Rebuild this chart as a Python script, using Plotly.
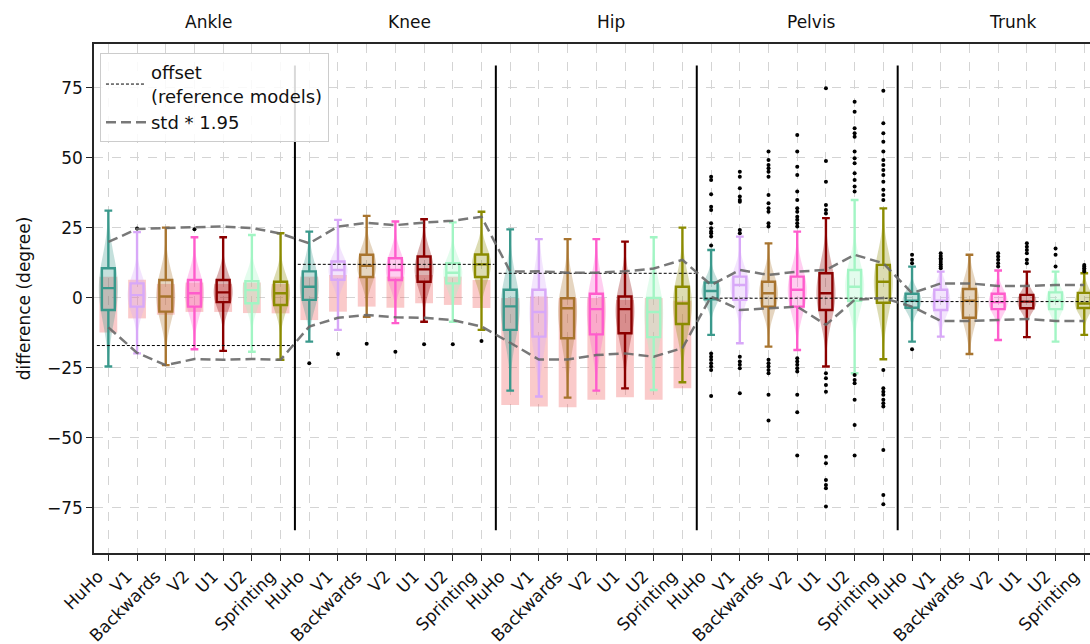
import plotly.graph_objects as go

categories = ["HuHo", "V1", "Backwards", "V2", "U1", "U2", "Sprinting"]
joints = ["Ankle", "Knee", "Hip", "Pelvis", "Trunk"]
colors = ["#3a998c", "#d8a8f8", "#a8742e", "#ff5ccc", "#8b0000", "#a2f5c4", "#8b8b00"]

# ---- box statistics per joint (order = categories) ----
ankle_med = [3.5, 1.0, 0.5, 1.7, 2.0, 2.8, 1.7]
ankle_q1 = [-4.3, -3.1, -4.9, -3.1, -1.5, -1.9, -2.5]
ankle_q3 = [10.6, 5.2, 6.4, 6.4, 6.4, 6.0, 5.8]
ankle_lo = [-24.5, -19.8, -24.0, -18.3, -18.9, -19.2, -22.1]
ankle_hi = [31.2, 23.5, 25.1, 21.7, 21.7, 22.5, 23.1]

knee_med = [4.0, 10.0, 11.5, 10.0, 10.2, 9.0, 12.0]
knee_q1 = [-0.7, 6.5, 7.5, 6.4, 5.8, 5.2, 7.5]
knee_q3 = [9.5, 13.0, 15.4, 14.2, 14.8, 12.4, 15.5]
knee_lo = [-15.6, -11.4, -6.7, -9.0, -8.5, -8.5, -11.4]
knee_hi = [23.7, 27.9, 29.3, 27.3, 28.1, 27.0, 30.8]

hip_med = [-3.0, -5.0, -3.7, -4.0, -4.0, -5.0, -2.0]
hip_q1 = [-11.4, -13.8, -14.4, -13.0, -12.6, -14.0, -9.3]
hip_q3 = [2.9, 2.9, -0.1, 1.5, 0.5, 0.0, 4.0]
hip_lo = [-33.1, -35.2, -35.6, -33.1, -32.3, -32.9, -30.1]
hip_hi = [24.5, 21.0, 21.0, 21.0, 20.1, 21.7, 25.1]

pelvis_med = [2.5, 4.6, 1.7, 2.9, 1.7, 4.0, 5.8]
pelvis_q1 = [-0.5, -0.7, -3.1, -3.1, -4.3, -1.0, -1.7]
pelvis_q3 = [5.5, 7.6, 5.8, 7.6, 8.8, 10.0, 11.8]
pelvis_lo = [-13.2, -16.2, -17.4, -18.6, -24.5, -26.9, -21.9]
pelvis_hi = [17.1, 21.9, 19.5, 23.7, 28.5, 35.0, 32.0]

trunk_med = [-1.0, -1.0, -1.0, -1.5, -1.3, -1.0, -2.0]
trunk_q1 = [-3.5, -4.3, -7.1, -4.0, -3.7, -4.0, -3.6]
trunk_q3 = [1.5, 2.9, 3.2, 1.5, 1.1, 2.0, 1.8]
trunk_lo = [-15.6, -13.8, -20.0, -15.0, -14.0, -15.6, -13.2]
trunk_hi = [11.2, 9.4, 15.4, 9.8, 9.4, 9.4, 8.8]

# ---- outliers ----
ankle_out = [[], [24.8], [], [24.5], [], [], []]
knee_out = [[-23.3], [-20.0], [-16.4], [-19.2], [-16.5], [-16.5], [-15.4]]
hip_out = [[], [], [], [], [], [], []]
pelvis_out = [
    [43.3, 42.1, 37.0, 32.6, 31.4, 26.7, 24.9, 23.7, 23.1, 21.9, 18.7,
     -19.8, -21.0, -22.1, -23.3, -24.5, -25.7, -35.0],
    [45.1, 43.3, 39.2, 36.2, 35.0, 34.4, 24.3, 23.1,
     -21.0, -22.7, -23.9, -25.1, -34.0],
    [52.3, 49.3, 47.5, 46.3, 45.1, 43.3, 36.8, 33.8, 32.0, 30.8, 26.7, 25.5,
     -22.1, -23.3, -24.5, -25.7, -26.9, -34.6, -43.8],
    [58.2, 52.3, 46.9, 43.9, 38.0, 35.0, 32.0, 30.8, 29.0, 27.9, 26.7, 25.5,
     -21.5, -22.7, -23.9, -25.1, -26.3, -34.6, -40.8, -56.3],
    [74.9, 48.9, 41.5, 33.2, 31.4, 30.2,
     -26.9, -28.7, -31.1, -33.5, -56.7, -59.0, -65.0, -66.8, -68.0, -74.5],
    [70.1, 66.5, 60.6, 58.8, 57.6, 52.3, 49.9, 48.1, 44.5, 42.1, 39.8, 38.0,
     -27.5, -29.3, -30.5, -36.4, -45.4, -56.3],
    [74.0, 62.4, 58.8, 55.8, 52.3, 49.3, 47.5, 45.7, 43.9, 41.5, 38.6, 36.8, 35.0,
     -25.7, -32.3, -33.5, -34.6, -36.4, -37.6, -38.8, -54.3, -70.4, -73.7],
]
trunk_out = [
    [15.4, 13.6, 12.4, -18.3],
    [16.0, 15.0, 14.2, 13.6, 12.8, 12.0, 11.2, 10.6],
    [],
    [16.0, 14.8, 13.6, 12.4, 11.2],
    [19.5, 18.3, 17.1, 16.0, 13.6, 12.4],
    [17.7, 15.4, 11.2],
    [11.8, 11.2, 10.6, 10.0, 9.4],
]

# ---- reference ranges (red bars) for Ankle, Knee, Hip ----
ankle_ref_lo = [-12.3, -7.3, -6.0, -5.0, -5.0, -5.4, -5.5]
ankle_ref_hi = [7.6, 6.5, 5.0, 5.5, 5.0, 5.5, 5.0]
knee_ref_lo = [-7.9, -4.9, -3.1, -3.5, -1.9, -2.5, -3.6]
knee_ref_hi = [7.6, 8.2, 7.6, 7.6, 8.2, 7.6, 6.4]
hip_ref_lo = [-38.2, -38.8, -39.0, -36.4, -35.5, -36.4, -32.3]
hip_ref_hi = [0.0, 0.5, 0.0, 0.0, -0.7, 0.0, -1.0]

# ---- offsets (reference models) per joint ----
offsets = [-17.0, 12.0, 8.8, -0.1, -1.3]

# ---- std * 1.95 envelope (35 points) ----
std_upper = [20.0, 24.6, 25.0, 25.2, 25.5, 25.0, 23.0,
             19.5, 25.5, 26.8, 26.0, 26.9, 27.6, 29.0,
             9.4, 9.5, 9.0, 9.0, 9.5, 10.5, 13.6,
             4.6, 10.0, 8.2, 9.4, 10.0, 15.4, 12.4,
             1.7, 5.2, 5.2, 4.3, 4.3, 4.6, 4.6]
std_lower = [-10.5, -19.6, -24.0, -21.8, -22.1, -21.8, -22.1,
             -10.2, -7.1, -6.1, -6.9, -7.1, -7.9, -10.2,
             -16.0, -22.0, -22.0, -20.4, -19.8, -21.0, -17.9,
             0.5, -4.3, -3.6, -3.1, -9.6, -0.7, 0.0,
             -3.1, -8.2, -8.2, -7.9, -7.5, -8.2, -8.2]

separators = [6.5, 13.5, 20.5, 27.5]
separator_extent = 83

med = [ankle_med, knee_med, hip_med, pelvis_med, trunk_med]
q1 = [ankle_q1, knee_q1, hip_q1, pelvis_q1, trunk_q1]
q3 = [ankle_q3, knee_q3, hip_q3, pelvis_q3, trunk_q3]
wlo = [ankle_lo, knee_lo, hip_lo, pelvis_lo, trunk_lo]
whi = [ankle_hi, knee_hi, hip_hi, pelvis_hi, trunk_hi]
outs = [ankle_out, knee_out, hip_out, pelvis_out, trunk_out]
ref_lo = [ankle_ref_lo, knee_ref_lo, hip_ref_lo]
ref_hi = [ankle_ref_hi, knee_ref_hi, hip_ref_hi]

nc = len(categories)
ng = len(joints)


def rgba(hexc, a):
    h = hexc.lstrip("#")
    return "rgba(%d,%d,%d,%.2f)" % (int(h[0:2], 16), int(h[2:4], 16), int(h[4:6], 16), a)


fig = go.Figure()

# red reference bars
bx, by, bb = [], [], []
for g in range(len(ref_lo)):
    for c in range(nc):
        bx.append(g * nc + c)
        bb.append(ref_lo[g][c])
        by.append(ref_hi[g][c] - ref_lo[g][c])
fig.add_trace(go.Bar(x=bx, y=by, base=bb, width=0.62,
                     marker=dict(color="rgba(240,90,90,0.32)", line=dict(width=0)),
                     showlegend=False, hoverinfo="skip"))

# point clouds (violins built from box stats)
for g in range(ng):
    for c in range(nc):
        pos = g * nc + c
        iqr = max(q3[g][c] - q1[g][c], 4.0)
        fig.add_trace(go.Violin(
            x=[pos] * 3, y=[q1[g][c], med[g][c], q3[g][c]],
            width=0.66, bandwidth=iqr * 0.6, spanmode="manual",
            span=[wlo[g][c], whi[g][c]], scalemode="width",
            fillcolor=rgba(colors[c], 0.3), line=dict(color=rgba(colors[c], 0.0), width=0),
            points=False, showlegend=False, hoverinfo="skip", orientation="v"))

# boxes
for c in range(nc):
    fig.add_trace(go.Box(
        x=[g * nc + c for g in range(ng)],
        q1=[q1[g][c] for g in range(ng)],
        median=[med[g][c] for g in range(ng)],
        q3=[q3[g][c] for g in range(ng)],
        lowerfence=[wlo[g][c] for g in range(ng)],
        upperfence=[whi[g][c] for g in range(ng)],
        width=0.45, whiskerwidth=0.6, boxpoints=False,
        line=dict(color=colors[c], width=2.4), fillcolor="rgba(255,255,255,0)",
        showlegend=False, hoverinfo="skip", orientation="v"))

# outliers
ox, oy = [], []
for g in range(ng):
    for c in range(nc):
        for v in outs[g][c]:
            ox.append(g * nc + c)
            oy.append(v)
fig.add_trace(go.Scatter(x=ox, y=oy, mode="markers",
                         marker=dict(color="black", size=4),
                         showlegend=False, hoverinfo="skip"))

# group separators
sx, sy = [], []
for s in separators:
    sx += [s, s, None]
    sy += [-separator_extent, separator_extent, None]
fig.add_trace(go.Scatter(x=sx, y=sy, mode="lines",
                         line=dict(color="black", width=2),
                         showlegend=False, hoverinfo="skip"))

# offsets
for g in range(ng):
    fig.add_trace(go.Scatter(
        x=[g * nc - 0.4, g * nc + nc - 0.55], y=[offsets[g], offsets[g]],
        mode="lines", line=dict(color="black", width=1, dash="3px,2px"),
        name="offset<br>(reference models)", legendgroup="offset",
        showlegend=(g == 0), hoverinfo="skip"))

# std envelope
xs = list(range(ng * nc))
fig.add_trace(go.Scatter(x=xs, y=std_upper, mode="lines",
                         line=dict(color="rgba(105,105,105,0.9)", width=2.5, dash="10px,5px"),
                         name="std * 1.95", legendgroup="std", hoverinfo="skip"))
fig.add_trace(go.Scatter(x=xs, y=std_lower, mode="lines",
                         line=dict(color="rgba(105,105,105,0.9)", width=2.5, dash="10px,5px"),
                         name="std * 1.95", legendgroup="std", showlegend=False, hoverinfo="skip"))

# joint labels on top
for g, j in enumerate(joints):
    fig.add_annotation(x=g * nc + (nc - 1) / 2 + 0.5, y=1.043, xref="x", yref="paper",
                       text=j, showarrow=False, font=dict(size=17, color="#111"),
                       xanchor="center", yanchor="middle")

font = "DejaVu Sans, Verdana, sans-serif"
fig.update_layout(
    width=1090, height=644,
    margin=dict(l=94, r=0, t=44, b=91, autoexpand=False),
    paper_bgcolor="white", plot_bgcolor="white",
    font=dict(family=font, size=17, color="#111"),
    barmode="overlay", boxmode="overlay", violinmode="overlay",
    legend=dict(x=0.006, y=0.982, xanchor="left", yanchor="top",
                bgcolor="rgba(255,255,255,0.85)", bordercolor="#cccccc", borderwidth=1,
                font=dict(size=18), traceorder="normal", itemwidth=40,
                tracegroupgap=6),
)
fig.update_xaxes(
    range=[-0.5, 34.2], tickmode="array", tickvals=xs, ticktext=categories * ng,
    tickangle=-45, showgrid=True, gridcolor="#d4d4d4", griddash="dash", gridwidth=1,
    showline=True, linecolor="#262626", linewidth=1.5, mirror=True,
    ticks="outside", ticklen=6, tickwidth=1.3, tickcolor="#262626",
    zeroline=False, automargin=False, tickfont=dict(size=17),
    ticklabeloverflow="allow", ticklabelshift=-10, ticklabelstandoff=-1)
fig.update_yaxes(
    range=[-91.1, 90.7], tickmode="array", tickvals=[-75, -50, -25, 0, 25, 50, 75],
    showgrid=True, gridcolor="#d4d4d4", griddash="dash", gridwidth=1,
    showline=True, linecolor="#262626", linewidth=1.5,
    ticks="outside", ticklen=6, tickwidth=1.3, tickcolor="#262626",
    zeroline=False, automargin=False, tickfont=dict(size=17),
    title=dict(text="difference (degree)", font=dict(size=17), standoff=12))

fig.write_html("out.html", config={"displayModeBar": False},
               post_script="document.body.style.margin='0px';document.body.style.padding='0px';")
